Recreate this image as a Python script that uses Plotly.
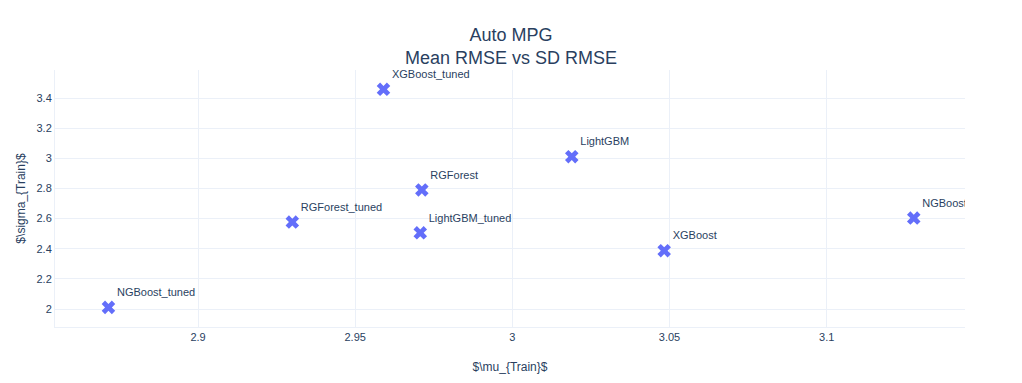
import plotly.graph_objects as go

models = ["NGBoost_tuned", "RGForest_tuned", "XGBoost_tuned", "RGForest",
          "LightGBM_tuned", "LightGBM", "XGBoost", "NGBoost"]
mu_train = [2.8715, 2.9300, 2.9590, 2.9712, 2.9707, 3.0189, 3.0483, 3.1277]
sigma_train = [2.011, 2.577, 3.458, 2.790, 2.506, 3.011, 2.387, 2.604]

fig = go.Figure(go.Scatter(
    x=mu_train, y=sigma_train, text=models,
    mode="markers+text", textposition="top right",
    marker=dict(symbol="x", size=12, color="#636efa"),
    textfont=dict(size=11),
    cliponaxis=True,
))

fig.update_layout(
    template="plotly_white",
    width=1022, height=383,
    font=dict(family="Arial", size=11, color="#2a3f5f"),
    title=dict(text="Auto MPG<br>Mean RMSE vs SD RMSE", x=0.5, xanchor="center",
               y=1 - 40.5 / 383, yanchor="middle", yref="container",
               font=dict(size=18)),
    xaxis=dict(title=dict(text="$\\mu_{Train}$", font=dict(size=12), standoff=20),
               range=[2.8545, 3.144], automargin=False,
               showline=True, linecolor="#EBF0F8", linewidth=1),
    yaxis=dict(title=dict(text="$\\sigma_{Train}$", font=dict(size=12), standoff=8),
               range=[1.881, 3.586], dtick=0.2, automargin=False,
               showline=True, linecolor="#EBF0F8", linewidth=1),
    margin=dict(l=55, r=57, t=70, b=56),
    showlegend=False,
)

fig.write_html("out.html", config={"displayModeBar": False},
               post_script="document.body.style.margin='0';")
